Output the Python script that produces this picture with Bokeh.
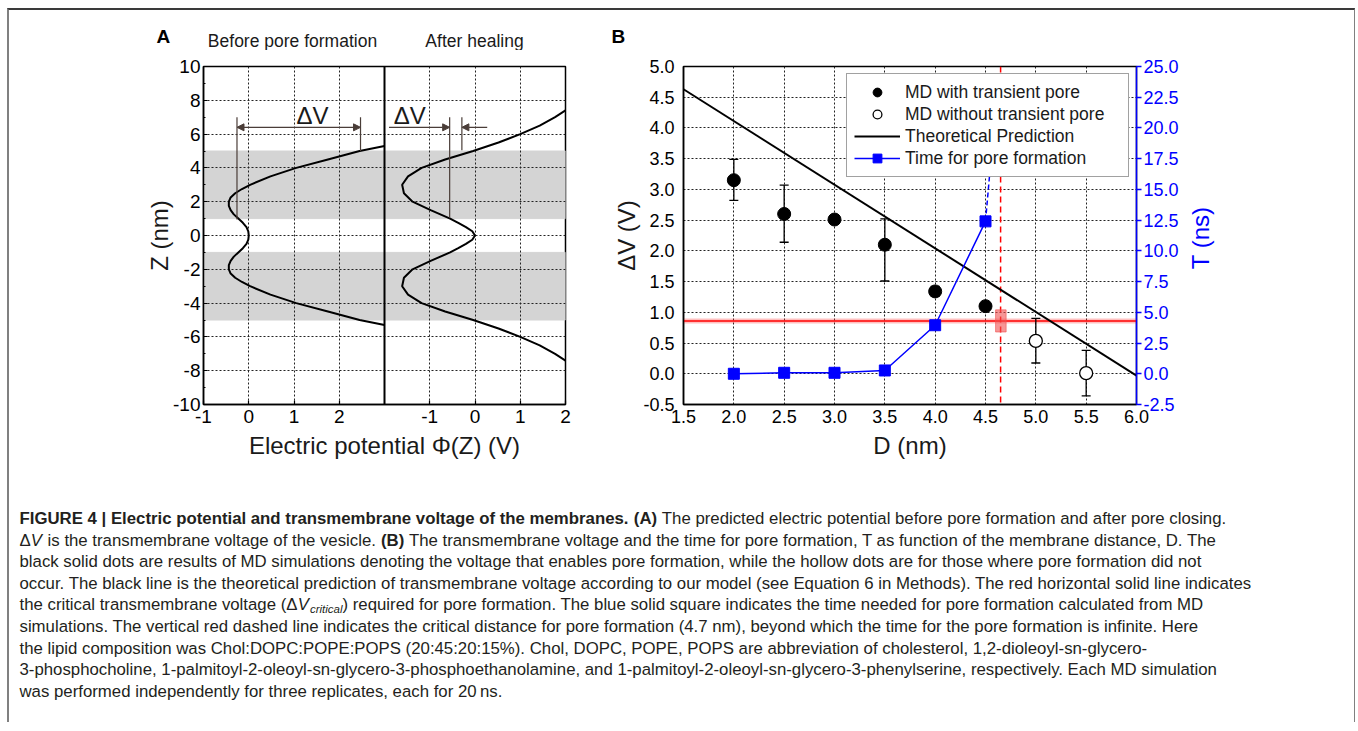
from bokeh.plotting import figure
from bokeh.models import (Range1d, LinearAxis, FixedTicker, Span, Arrow, NormalHead,
                          Whisker, TeeHead, ColumnDataSource, Legend, LegendItem, Label,
                          PrintfTickFormatter)
from bokeh.layouts import row, column
from bokeh.embed import file_html
from bokeh.resources import INLINE
from bokeh.core.properties import value
import math

FONT = "Liberation Sans"
GRID_DASH = "2 2"
TXT = "#1a1a1a"

# ---------------- Panel A data ----------------
z_before = [-5.3, -5.0, -4.5, -4.0, -3.5, -3.0, -2.75, -2.5, -2.25, -2.0, -1.75, -1.5, -1.25, -1.0,
            -0.75, -0.5, -0.25, 0.0, 0.25, 0.5, 0.75, 1.0, 1.25, 1.5, 1.75, 2.0, 2.25, 2.5, 2.75,
            3.0, 3.5, 4.0, 4.5, 5.0, 5.3]
phi_before = [3.0, 2.45, 1.75, 1.05, 0.48, 0.03, -0.15, -0.30, -0.40, -0.44, -0.44, -0.40, -0.33, -0.23,
              -0.13, -0.05, -0.01, 0.0, -0.01, -0.05, -0.13, -0.23, -0.33, -0.40, -0.44, -0.44, -0.40,
              -0.30, -0.15, 0.03, 0.48, 1.05, 1.75, 2.45, 3.0]

z_after = [-7.4, -7.0, -6.5, -6.0, -5.5, -5.0, -4.5, -4.0, -3.5, -3.0, -2.5, -2.0, -1.5, -1.0, -0.75,
           -0.5, -0.25, 0.0, 0.25, 0.5, 0.75, 1.0, 1.5, 2.0, 2.5, 3.0, 3.5, 4.0, 4.5, 5.0, 5.5, 6.0,
           6.5, 7.0, 7.4]
phi_after = [2.0, 1.77, 1.43, 1.0, 0.52, -0.04, -0.66, -1.18, -1.48, -1.61, -1.57, -1.38, -0.98, -0.55,
             -0.37, -0.2, -0.06, 0.0, -0.06, -0.2, -0.37, -0.55, -0.98, -1.38, -1.57, -1.61, -1.48,
             -1.18, -0.66, -0.04, 0.52, 1.0, 1.43, 1.77, 2.0]

membrane_lo = [1.0, -5.0]
membrane_hi = [5.0, -1.0]

dv_before_phi = [-0.26, 2.47]
dv_before_zlow = [0.95, 5.0]
dv_after_phi = [-0.56, -0.29]
dv_after_zlow = [1.05, 5.05]
dv_after_tail = [-1.9, 0.27]
dv_top_z = 7.0
dv_arrow_z = 6.4
dv_label_z = 7.12
dv_before_label_phi = 1.41
dv_after_label_phi = -1.44

a_ticks = [-1, 0, 1, 2]
z_ticks = list(range(-10, 11, 2))
z_minor = list(range(-10, 11, 1))

# ---------------- Panel B data ----------------
D_with = [2.0, 2.5, 3.0, 3.5, 4.0, 4.5]
V_with = [3.15, 2.60, 2.51, 2.10, 1.34, 1.10]
V_with_lo = [2.82, 2.14, 2.46, 1.51, 1.26, 1.04]
V_with_hi = [3.49, 3.07, 2.56, 2.52, 1.42, 1.16]

D_without = [5.0, 5.5]
V_without = [0.535, 0.01]
V_without_lo = [0.175, -0.36]
V_without_hi = [0.90, 0.38]

D_theory = [1.5, 6.0]
V_theory = [4.63, -0.03]

D_time = [2.0, 2.5, 3.0, 3.5, 4.0, 4.5]
T_time = [0.0, 0.08, 0.08, 0.27, 3.95, 12.4]
D_time_ext = [4.5, 4.54]
T_time_ext = [12.4, 16.1]

V_critical = 0.86
D_critical = 4.65
D_crit_box = [4.60, 4.705]
V_crit_box = [0.68, 1.04]

D_ticks = [1.5, 2.0, 2.5, 3.0, 3.5, 4.0, 4.5, 5.0, 5.5, 6.0]
V_ticks = [-0.5, 0.0, 0.5, 1.0, 1.5, 2.0, 2.5, 3.0, 3.5, 4.0, 4.5, 5.0]
T_ticks = [-2.5, 0.0, 2.5, 5.0, 7.5, 10.0, 12.5, 15.0, 17.5, 20.0, 22.5, 25.0]

# ---------------- Caption ----------------
caption_runs = [
    [("FIGURE 4 | Electric potential and transmembrane voltage of the membranes.", "bold", 1),
     ("(A)", "bold", 1),
     ("The predicted electric potential before pore formation and after pore closing.", "normal", 1)],
    [("\u0394", "normal", 0), ("V", "italic", 1), ("is the transmembrane voltage of the vesicle.", "normal", 1),
     ("(B)", "bold", 1),
     ("The transmembrane voltage and the time for pore formation, T as function of the membrane distance, D. The", "normal", 0)],
    [("black solid dots are results of MD simulations denoting the voltage that enables pore formation, while the hollow dots are for those where pore formation did not", "normal", 0)],
    [("occur. The black line is the theoretical prediction of transmembrane voltage according to our model (see Equation 6 in Methods). The red horizontal solid line indicates", "normal", 0)],
    [("the critical transmembrane voltage (\u0394", "normal", 0), ("V", "italic", 0), ("critical", "italic", 0),
     (") required for pore formation. The blue solid square indicates the time needed for pore formation calculated from MD", "normal", 0)],
    [("simulations. The vertical red dashed line indicates the critical distance for pore formation (4.7 nm), beyond which the time for the pore formation is infinite. Here", "normal", 0)],
    [("the lipid composition was Chol:DOPC:POPE:POPS (20:45:20:15%). Chol, DOPC, POPE, POPS are abbreviation of cholesterol, 1,2-dioleoyl-sn-glycero-", "normal", 0)],
    [("3-phosphocholine, 1-palmitoyl-2-oleoyl-sn-glycero-3-phosphoethanolamine, and 1-palmitoyl-2-oleoyl-sn-glycero-3-phenylserine, respectively. Each MD simulation", "normal", 0)],
    [("was performed independently for three replicates, each for 20\u2009ns.", "normal", 0)],
]

# Arial / Liberation Sans advance widths (1/1000 em) used to place consecutive runs
_REG = {" ": 278, "(": 333, ")": 333, ".": 278, ",": 278, "-": 333, ":": 278, "%": 889, "|": 260,
        "\u0394": 668, "\u2009": 167}
_REG.update({d: 556 for d in "0123456789"})
_REG.update(dict(zip("ABCDEFGHIJKLMNOPQRSTUVWXYZ",
                     [667, 667, 722, 722, 667, 611, 778, 722, 278, 500, 667, 556, 833, 722, 778, 667,
                      778, 722, 667, 611, 722, 667, 944, 667, 667, 611])))
_REG.update(dict(zip("abcdefghijklmnopqrstuvwxyz",
                     [556, 556, 500, 556, 556, 278, 556, 556, 222, 222, 500, 222, 833, 556, 556, 556,
                      556, 333, 500, 278, 556, 500, 722, 500, 500, 500])))
_BOLD = dict(_REG)
_BOLD.update({"|": 280, "A": 722, "B": 722, "R": 722, "U": 722})
_BOLD.update(dict(zip("abcdefghijklmnopqrstuvwxyz",
                      [556, 611, 556, 611, 556, 333, 611, 611, 278, 278, 556, 278, 889, 611, 611, 611,
                       611, 389, 556, 333, 611, 556, 778, 556, 556, 500])))


def text_width(s, style, size):
    tab = _BOLD if style == "bold" else _REG
    return sum(tab.get(ch, 556) for ch in s) / 1000.0 * size


CAP_SIZE = 16.8
SUB_SIZE = 11.5
CAP_X0 = 19
CAP_Y0 = 48
CAP_DY = 21.6

# ================= Header (panel letters and titles) =================
HW, HH = 1345, 40
pH = figure(width=HW, height=HH, x_range=Range1d(0, HW), y_range=Range1d(HH, 0),
            output_backend="svg", toolbar_location=None, x_axis_location=None, y_axis_location=None,
            min_border=0, outline_line_color=None)
pH.xgrid.visible = False
pH.ygrid.visible = False
pH.text(x=[147, 602], y=[26, 26], text=["A", "B"], text_font=value(FONT), text_font_size="19px",
        text_font_style="bold", text_baseline="middle", text_align="left", text_color="black")
pH.text(x=[283, 465], y=[30, 30], text=["Before pore formation", "After healing"],
        text_font=value(FONT), text_font_size="17.5px", text_baseline="middle", text_align="center",
        text_color=TXT)

# ================= Panel A figure =================
pA = figure(width=580, height=420, x_range=Range1d(-1, 7), y_range=Range1d(-10, 10),
            output_backend="svg", toolbar_location=None,
            min_border_left=194, min_border_right=24, min_border_top=16, min_border_bottom=66)
pA.extra_x_ranges = {"heal": Range1d(-6, 2)}
shift = pA.x_range.start - pA.extra_x_ranges["heal"].start

pA.outline_line_color = "black"
pA.outline_line_width = 1.5

pA.hbar(y=[(lo + hi) / 2 for lo, hi in zip(membrane_lo, membrane_hi)],
        height=[hi - lo for lo, hi in zip(membrane_lo, membrane_hi)],
        left=pA.x_range.start, right=pA.x_range.end, color="#d4d4d4", level="underlay")

xt = a_ticks + [t + shift for t in a_ticks]
axA_x = pA.below[0]
axA_y = pA.left[0]
axA_x.ticker = FixedTicker(ticks=xt)
ov = {t: str(t) for t in a_ticks}
ov.update({t + shift: str(t) for t in a_ticks})
axA_x.major_label_overrides = ov
axA_y.ticker = FixedTicker(ticks=z_ticks, minor_ticks=z_minor)
axA_y.major_label_overrides = {t: str(t) for t in z_ticks}
pA.xgrid.ticker = FixedTicker(ticks=[t for t in xt if t not in (-1, 7)])
pA.ygrid.ticker = FixedTicker(ticks=[t for t in z_ticks if abs(t) != 10])
for g in (pA.xgrid, pA.ygrid):
    g.grid_line_color = "#222222"
    g.grid_line_dash = GRID_DASH
    g.grid_line_width = 1
    g.level = "underlay"

for ax in (axA_x, axA_y):
    ax.axis_line_width = 1.5
    ax.major_tick_in = 4
    ax.major_tick_out = 0
    ax.minor_tick_in = 2
    ax.minor_tick_out = 0
    ax.major_tick_line_width = 1.2
    ax.major_label_text_font = FONT
    ax.major_label_text_font_size = "19px"
    ax.major_label_text_color = "black"
    ax.axis_label_text_font = FONT
    ax.axis_label_text_font_size = "24px"
    ax.axis_label_text_font_style = "normal"
    ax.axis_label_text_color = TXT
axA_x.minor_tick_in = 0
axA_x.axis_label = "Electric potential \u03a6(Z) (V)"
axA_y.axis_label = "Z (nm)"
axA_y.major_label_standoff = 3
axA_y.axis_label_standoff = -3
axA_x.major_label_standoff = 5
axA_x.axis_label_standoff = 6

pA.add_layout(Span(location=pA.x_range.start + 4, dimension="height", line_color="black", line_width=2))

pA.line(phi_before, z_before, line_color="black", line_width=2)
pA.line(phi_after, z_after, line_color="black", line_width=2, x_range_name="heal")

ANN = "#4a3d38"
pA.segment(x0=dv_before_phi, y0=dv_before_zlow, x1=dv_before_phi, y1=[dv_top_z] * 2,
           line_color=ANN, line_width=1.2)
pA.segment(x0=dv_after_phi, y0=dv_after_zlow, x1=dv_after_phi, y1=[dv_top_z] * 2,
           line_color=ANN, line_width=1.2, x_range_name="heal")
pA.add_layout(Arrow(x_start=dv_before_phi[0], y_start=dv_arrow_z, x_end=dv_before_phi[1], y_end=dv_arrow_z,
                    start=NormalHead(size=7, fill_color=ANN, line_color=ANN),
                    end=NormalHead(size=7, fill_color=ANN, line_color=ANN),
                    line_color=ANN, line_width=1.2))
for tail, head in zip(dv_after_tail, dv_after_phi):
    pA.add_layout(Arrow(x_start=tail, y_start=dv_arrow_z, x_end=head, y_end=dv_arrow_z,
                        end=NormalHead(size=7, fill_color=ANN, line_color=ANN),
                        line_color=ANN, line_width=1.2, x_range_name="heal"))
pA.add_layout(Label(x=dv_before_label_phi, y=dv_label_z, text="\u0394V", text_font=FONT,
                    text_font_size="24px", text_align="center", text_baseline="middle", text_color=TXT))
pA.add_layout(Label(x=dv_after_label_phi, y=dv_label_z, text="\u0394V", text_font=FONT,
                    text_font_size="24px", text_align="center", text_baseline="middle",
                    text_color=TXT, x_range_name="heal"))

# ================= Panel B figure =================
pB = figure(width=597, height=420, x_range=Range1d(1.5, 6.0), y_range=Range1d(-0.5, 5.0),
            output_backend="svg", toolbar_location=None,
            min_border_left=94, min_border_right=50, min_border_top=16, min_border_bottom=66)
pB.extra_y_ranges = {"time": Range1d(-2.5, 25.0)}
pB.outline_line_color = "black"
pB.outline_line_width = 1.5

axB_x = pB.below[0]
axB_y = pB.left[0]
axB_x.ticker = FixedTicker(ticks=D_ticks)
axB_y.ticker = FixedTicker(ticks=V_ticks)
axB_x.formatter = PrintfTickFormatter(format="%.1f")
axB_y.formatter = PrintfTickFormatter(format="%.1f")
pB.xgrid.ticker = FixedTicker(ticks=D_ticks[1:-1])
pB.ygrid.ticker = FixedTicker(ticks=V_ticks[1:-1])
for g in (pB.xgrid, pB.ygrid):
    g.grid_line_color = "#222222"
    g.grid_line_dash = GRID_DASH
    g.grid_line_width = 1

BLUE = "#0000ff"
rightB = LinearAxis(y_range_name="time", ticker=FixedTicker(ticks=T_ticks),
                    formatter=PrintfTickFormatter(format="%.1f"))
pB.add_layout(rightB, "right")
for ax in (axB_x, axB_y, rightB):
    ax.axis_line_width = 1.5
    ax.major_tick_in = 0
    ax.major_tick_out = 0
    ax.minor_tick_line_color = None
    ax.major_label_text_font = FONT
    ax.major_label_text_font_size = "18px"
    ax.major_label_text_color = "black"
    ax.axis_label_text_font = FONT
    ax.axis_label_text_font_size = "24px"
    ax.axis_label_text_font_style = "normal"
    ax.axis_label_text_color = TXT
rightB.axis_line_color = BLUE
rightB.major_tick_line_color = BLUE
rightB.major_tick_out = 5
rightB.major_tick_line_width = 1.5
rightB.major_label_text_color = BLUE
rightB.major_label_standoff = 2
axB_x.axis_label = "D (nm)"
axB_y.axis_label = "\u0394V (V)"
axB_y.major_label_standoff = 9
axB_y.axis_label_standoff = 0
axB_x.major_label_standoff = 5
axB_x.axis_label_standoff = 6

pB.add_layout(Span(location=V_critical, dimension="width", line_color="#ff3030", line_alpha=0.3,
                   line_width=5, level="underlay"))
pB.add_layout(Span(location=V_critical, dimension="width", line_color="red", line_width=1.5,
                   level="underlay"))
pB.add_layout(Span(location=D_critical, dimension="height", line_color="red", line_width=1.5,
                   line_dash="6 4", level="underlay"))
pB.quad(left=[D_crit_box[0]], right=[D_crit_box[1]], bottom=[V_crit_box[0]], top=[V_crit_box[1]],
        fill_color="#f05050", fill_alpha=0.6, line_color="#f05050", line_alpha=0.6)

r_theory = pB.line(D_theory, V_theory, line_color="black", line_width=2)

src_with = ColumnDataSource(dict(x=D_with, lo=V_with_lo, hi=V_with_hi))
src_without = ColumnDataSource(dict(x=D_without, lo=V_without_lo, hi=V_without_hi))
for src in (src_with, src_without):
    pB.add_layout(Whisker(source=src, base="x", lower="lo", upper="hi", dimension="height",
                          line_color="black", line_width=1.3,
                          upper_head=TeeHead(size=9, line_color="black", line_width=1.3),
                          lower_head=TeeHead(size=9, line_color="black", line_width=1.3)))

r_time_line = pB.line(D_time, T_time, y_range_name="time", line_color=BLUE, line_width=1.5)
pB.line(D_time_ext, T_time_ext, y_range_name="time", line_color=BLUE, line_width=1.5, line_dash="5 3")
r_time_sq = pB.scatter(D_time, T_time, y_range_name="time", marker="square", size=11,
                       fill_color=BLUE, line_color=BLUE)
r_with = pB.scatter(D_with, V_with, marker="circle", size=13, fill_color="black", line_color="black")
r_without = pB.scatter(D_without, V_without, marker="circle", size=13, fill_color="white",
                       line_color="black", line_width=1.3)

legend = Legend(items=[
    LegendItem(label="MD with transient pore", renderers=[r_with]),
    LegendItem(label="MD without transient pore", renderers=[r_without]),
    LegendItem(label="Theoretical Prediction", renderers=[r_theory]),
    LegendItem(label="Time for pore formation", renderers=[r_time_line, r_time_sq]),
], location="top_right")
legend.label_text_font = FONT
legend.label_text_font_size = "17.5px"
legend.label_text_color = TXT
legend.glyph_width = 46
legend.glyph_height = 22
legend.label_height = 22
legend.label_width = 216
legend.label_standoff = 5
legend.spacing = 0
legend.padding = 7
legend.margin = 7
legend.border_line_color = "#444444"
legend.border_line_width = 1.2
legend.background_fill_alpha = 1.0
pB.add_layout(legend)

# right-hand axis title of panel B (reads bottom-to-top, like the reference)
TW, TH = 168, 420
pT = figure(width=TW, height=TH, x_range=Range1d(0, TW), y_range=Range1d(TH, 0),
            output_backend="svg", toolbar_location=None, x_axis_location=None, y_axis_location=None,
            min_border=0, outline_line_color=None)
pT.xgrid.visible = False
pT.ygrid.visible = False
pT.text(x=[14], y=[213], text=["T (ns)"], angle=math.pi / 2, text_font=value(FONT),
        text_font_size="24px", text_color=BLUE, text_align="center", text_baseline="middle")

# ================= Caption figure =================
CW, CH = 1345, 252
pC = figure(width=CW, height=CH, x_range=Range1d(0, CW), y_range=Range1d(CH, 0),
            output_backend="svg", toolbar_location=None, x_axis_location=None, y_axis_location=None,
            min_border=0, outline_line_color=None)
pC.xgrid.visible = False
pC.ygrid.visible = False
cx, cy, ct, cs, cz = [], [], [], [], []
for i, runs in enumerate(caption_runs):
    base_y = CAP_Y0 + CAP_DY * i
    x = CAP_X0 - 9
    for txt, style, gap in runs:
        sub = (txt == "critical")
        size = SUB_SIZE if sub else CAP_SIZE
        cx.append(x)
        cy.append(base_y + (4 if sub else 0))
        ct.append(txt)
        cs.append(style)
        cz.append("%gpx" % size)
        x += text_width(txt, style, size) + (text_width(" ", "normal", CAP_SIZE) if gap else 0)
        if txt == "V" and style == "italic":
            x += 1
pC.text(x="x", y="y", text="t", text_font_style="s", text_font_size="z",
        source=ColumnDataSource(dict(x=cx, y=cy, t=ct, s=cs, z=cz)),
        text_font=value(FONT), text_color="#231f20", text_baseline="middle", text_align="left")

layout = column(pH, row(pA, pB, pT), pC,
                styles={"margin-left": "7px", "margin-top": "8px",
                        "border-top": "2px solid #3a3a3a", "border-left": "2px solid #808080",
                        "border-right": "1px solid #808080"})

open("out.html", "w").write(file_html(layout, INLINE))
